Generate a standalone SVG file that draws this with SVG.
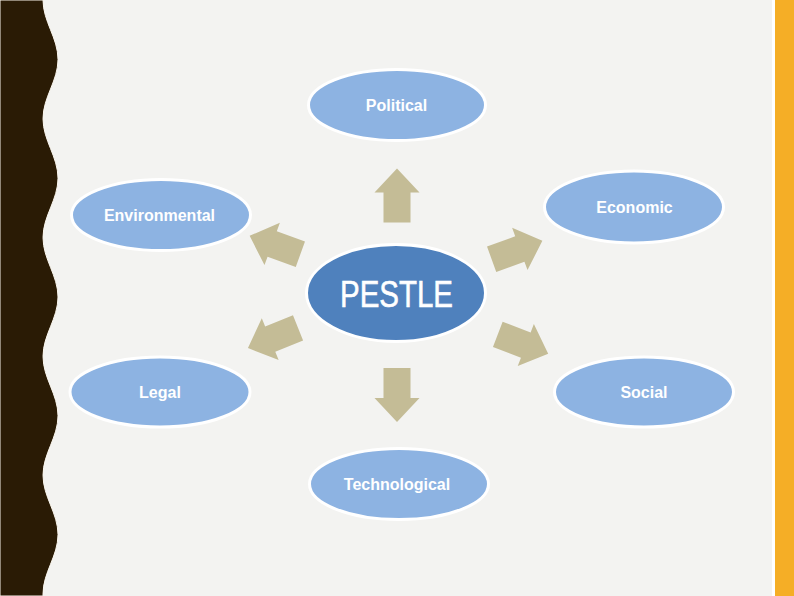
<svg xmlns="http://www.w3.org/2000/svg" width="794" height="596" viewBox="0 0 794 596">
  <defs>
    <style>
      .sub { fill: #8DB3E2; stroke: #FFFFFF; stroke-width: 3; }
      .core { fill: #4F81BD; stroke: #FFFFFF; stroke-width: 3; }
      .lbl { font-family: "Liberation Sans", Arial, sans-serif; font-weight: bold; font-size: 16px; fill: #FFFFFF; text-anchor: middle; }
      .big { font-family: "Liberation Sans", Arial, sans-serif; font-size: 37px; fill: #FFFFFF; stroke: #FFFFFF; stroke-width: 0.6; text-anchor: middle; }
      .arr { fill: #C4BC96; }
    </style>
    <path id="arrow" d="M-27,-13.5 L3,-13.5 L3,-22.5 L27,0 L3,22.5 L3,13.5 L-27,13.5 Z"/>
  </defs>

  <g id="background">
    <rect x="0" y="0" width="794" height="596" fill="#F3F3F1"/>
    <rect x="772" y="0" width="3" height="596" fill="#FFFFFF"/>
    <rect x="775" y="0" width="19" height="596" fill="#F5AE26"/>
    <path d="M0,0 L43,0 C43,21.6 58,37.8 58,59.4 C58,81 43,97.2 43,118.8 C43,140.4 58,156.6 58,178.2 C58,199.8 43,216 43,237.6 C43,259.2 58,275.4 58,297 C58,318.6 43,334.8 43,356.4 C43,378 58,394.2 58,415.8 C58,437.4 43,453.6 43,475.2 C43,496.8 58,513 58,534.6 C58,556.2 43,572.4 43,594 L43,596 L0,596 Z" fill="#2A1B05" stroke="#FAF6EE" stroke-width="1"/>
  </g>

  <g id="connectors" class="arr">
    <use href="#arrow" transform="translate(397,195.5) rotate(-90)"/>
    <use href="#arrow" transform="translate(397,395) rotate(90)"/>
    <use href="#arrow" transform="translate(275,245) rotate(200)"/>
    <use href="#arrow" transform="translate(273,338) rotate(158)"/>
    <use href="#arrow" transform="translate(517,250) rotate(-20)"/>
    <use href="#arrow" transform="translate(523,344) rotate(21)"/>
  </g>

  <g id="pestle">
    <ellipse class="core" cx="396" cy="293" rx="89.5" ry="48.5"/>
    <text class="big" x="396.5" y="307" textLength="113" lengthAdjust="spacingAndGlyphs">PESTLE</text>
  </g>

  <g id="political">
    <ellipse class="sub" cx="397" cy="105" rx="88.5" ry="35.5"/>
    <text class="lbl" x="396.5" y="111">Political</text>
  </g>

  <g id="economic">
    <ellipse class="sub" cx="634" cy="207" rx="89.5" ry="36"/>
    <text class="lbl" x="634.5" y="213">Economic</text>
  </g>

  <g id="social">
    <ellipse class="sub" cx="644" cy="392" rx="89.5" ry="35"/>
    <text class="lbl" x="644" y="398">Social</text>
  </g>

  <g id="technological">
    <ellipse class="sub" cx="399" cy="484" rx="89.5" ry="35.5"/>
    <text class="lbl" x="397" y="490">Technological</text>
  </g>

  <g id="legal">
    <ellipse class="sub" cx="160" cy="392" rx="90" ry="35"/>
    <text class="lbl" x="160" y="398">Legal</text>
  </g>

  <g id="environmental">
    <ellipse class="sub" cx="161" cy="215" rx="89.5" ry="35.5"/>
    <text class="lbl" x="159.5" y="221">Environmental</text>
  </g>
</svg>
